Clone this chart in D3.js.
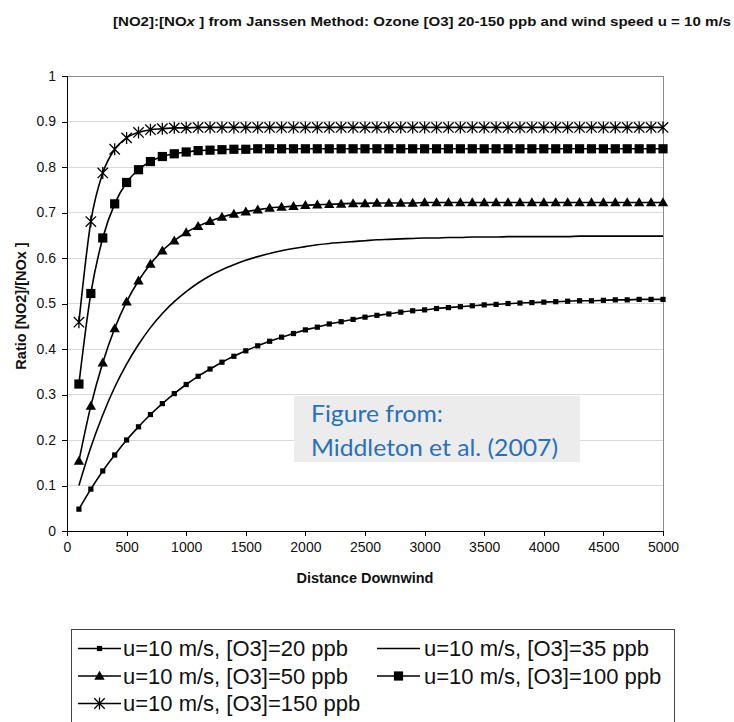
<!DOCTYPE html>
<html>
<head>
<meta charset="utf-8">
<script src="https://cdn.jsdelivr.net/npm/d3@7"></script>
<style>
  html, body { margin: 0; padding: 0; background: #fff; }
  svg { display: block; }
</style>
</head>
<body>
<svg id="chart" width="734" height="722"></svg>
<script>
// ---------- data ----------
const distances = [100,200,300,400,500,600,700,800,900,1000,
  1100,1200,1300,1400,1500,1600,1700,1800,1900,2000,
  2100,2200,2300,2400,2500,2600,2700,2800,2900,3000,
  3100,3200,3300,3400,3500,3600,3700,3800,3900,4000,
  4100,4200,4300,4400,4500,4600,4700,4800,4900,5000];

const o3_20 = [0.048,0.092,0.132,0.167,0.200,0.229,0.256,0.280,0.302,0.322,
  0.340,0.356,0.371,0.384,0.396,0.407,0.417,0.426,0.434,0.442,
  0.448,0.455,0.460,0.465,0.470,0.474,0.477,0.481,0.484,0.486,
  0.489,0.491,0.493,0.495,0.497,0.498,0.500,0.501,0.502,0.503,
  0.504,0.505,0.506,0.506,0.507,0.508,0.508,0.509,0.509,0.509];

const o3_35 = [0.100,0.184,0.255,0.316,0.367,0.410,0.447,0.478,0.504,0.526,
  0.545,0.561,0.574,0.585,0.595,0.603,0.610,0.616,0.621,0.625,
  0.629,0.632,0.634,0.636,0.638,0.640,0.641,0.642,0.643,0.644,
  0.644,0.645,0.645,0.646,0.646,0.646,0.647,0.647,0.647,0.647,
  0.647,0.647,0.648,0.648,0.648,0.648,0.648,0.648,0.648,0.648];

const o3_50 = [0.154,0.275,0.370,0.445,0.504,0.550,0.587,0.616,0.638,0.656,
  0.670,0.681,0.690,0.697,0.702,0.706,0.710,0.712,0.714,0.716,
  0.717,0.718,0.719,0.720,0.720,0.721,0.721,0.721,0.721,0.722,
  0.722,0.722,0.722,0.722,0.722,0.722,0.722,0.722,0.722,0.722,
  0.722,0.722,0.722,0.722,0.722,0.722,0.722,0.722,0.722,0.722];

const o3_100 = [0.323,0.522,0.644,0.719,0.766,0.794,0.812,0.823,0.829,0.833,
  0.836,0.837,0.838,0.839,0.839,0.840,0.840,0.840,0.840,0.840,
  0.840,0.840,0.840,0.840,0.840,0.840,0.840,0.840,0.840,0.840,
  0.840,0.840,0.840,0.840,0.840,0.840,0.840,0.840,0.840,0.840,
  0.840,0.840,0.840,0.840,0.840,0.840,0.840,0.840,0.840,0.840];

const o3_150 = [0.459,0.680,0.787,0.839,0.864,0.876,0.882,0.884,0.886,0.886,
  0.887,0.887,0.887,0.887,0.887,0.887,0.887,0.887,0.887,0.887,
  0.887,0.887,0.887,0.887,0.887,0.887,0.887,0.887,0.887,0.887,
  0.887,0.887,0.887,0.887,0.887,0.887,0.887,0.887,0.887,0.887,
  0.887,0.887,0.887,0.887,0.887,0.887,0.887,0.887,0.887,0.887];

const seriesNames = ["u=10 m/s, [O3]=20 ppb","u=10 m/s, [O3]=35 ppb","u=10 m/s, [O3]=50 ppb",
                     "u=10 m/s, [O3]=100 ppb","u=10 m/s, [O3]=150 ppb"];
const seriesMarkers = ["smallSquare","none","triangle","square","asterisk"];
const xTicks = [0,500,1000,1500,2000,2500,3000,3500,4000,4500,5000];
const yTicks = [0,0.1,0.2,0.3,0.4,0.5,0.6,0.7,0.8,0.9,1];
const titlePre = "[NO2]:[NO";
const titleItalic = "x";
const titlePost = " ] from Janssen Method: Ozone [O3] 20-150 ppb and wind speed u = 10 m/s";
const xLabel = "Distance Downwind";
const yLabel = "Ratio [NO2]/[NOx ]";
const noteLines = ["Figure from:", "Middleton et al. (2007)"];

const seriesValues = [o3_20, o3_35, o3_50, o3_100, o3_150];
const series = seriesNames.map((name, i) => ({
  name, marker: seriesMarkers[i],
  points: distances.map((d, j) => ({x: d, y: seriesValues[i][j]}))
}));

// ---------- layout ----------
const svg = d3.select("#chart");
const plot = {left: 67, right: 663, top: 76, bottom: 531};
const x = d3.scaleLinear().domain([0, 5000]).range([plot.left, plot.right]);
const y = d3.scaleLinear().domain([0, 1]).range([plot.bottom, plot.top]);
const font = "'Liberation Sans', Arial, sans-serif";

// title
const title = svg.append("text")
  .attr("x", 113).attr("y", 26)
  .attr("font-family", font).attr("font-weight", "bold").attr("font-size", 13.5)
  .attr("textLength", 618).attr("lengthAdjust", "spacingAndGlyphs")
  .attr("fill", "#111");
title.append("tspan").text(titlePre);
title.append("tspan").attr("font-style", "italic").text(titleItalic);
title.append("tspan").text(titlePost);

// gridlines
svg.append("g").selectAll("line")
  .data(yTicks.filter(t => t > 0 && t < 1))
  .join("line")
  .attr("x1", plot.left).attr("x2", plot.right)
  .attr("y1", d => y(d)).attr("y2", d => y(d))
  .attr("stroke", "#d9d9d9").attr("stroke-width", 1).attr("shape-rendering", "crispEdges");

// frame top/right
svg.append("line").attr("x1", plot.left).attr("x2", plot.right).attr("y1", plot.top).attr("y2", plot.top)
  .attr("stroke", "#8c8c8c").attr("shape-rendering", "crispEdges");
svg.append("line").attr("x1", plot.right).attr("x2", plot.right).attr("y1", plot.top).attr("y2", plot.bottom)
  .attr("stroke", "#8c8c8c").attr("shape-rendering", "crispEdges");

// axes
const xAxis = d3.axisBottom(x).tickValues(xTicks).tickSize(5).tickPadding(6).tickFormat(d3.format("d"));
const yAxis = d3.axisLeft(y).tickValues(yTicks).tickSize(5).tickPadding(6).tickFormat(d => d === 0 || d === 1 ? String(d) : d3.format(".1f")(d));

const gx = svg.append("g").attr("transform", `translate(0,${plot.bottom})`).call(xAxis);
const gy = svg.append("g").attr("transform", `translate(${plot.left},0)`).call(yAxis);
[gx, gy].forEach(g => {
  g.select(".domain").attr("stroke", "#000").attr("shape-rendering", "crispEdges");
  g.selectAll(".tick line").attr("stroke", "#000").attr("shape-rendering", "crispEdges");
  g.selectAll("text").attr("font-family", font).attr("font-size", 14).attr("fill", "#111");
});
gx.select(".domain").attr("d", `M${plot.left},0H${plot.right}`);
gy.select(".domain").attr("d", `M0,${plot.top}V${plot.bottom}`);

// axis labels
svg.append("text").attr("x", (plot.left + plot.right) / 2).attr("y", 583)
  .attr("text-anchor", "middle").attr("font-family", font).attr("font-weight", "bold")
  .attr("font-size", 14.5).attr("fill", "#111").text(xLabel);
svg.append("text").attr("transform", "translate(26,306) rotate(-90)")
  .attr("text-anchor", "middle").attr("font-family", font).attr("font-weight", "bold")
  .attr("font-size", 14.5).attr("fill", "#111").text(yLabel);

// ---------- markers ----------
function drawMarker(g, type, cx, cy, scale) {
  const s = scale || 1;
  if (type === "smallSquare") {
    g.append("rect").attr("x", cx - 2.6 * s).attr("y", cy - 2.6 * s)
      .attr("width", 5.2 * s).attr("height", 5.2 * s).attr("fill", "#000");
  } else if (type === "square") {
    g.append("rect").attr("x", cx - 4.6 * s).attr("y", cy - 4.6 * s)
      .attr("width", 9.2 * s).attr("height", 9.2 * s).attr("fill", "#000");
  } else if (type === "triangle") {
    g.append("path").attr("d", `M${cx},${cy - 5.2 * s}L${cx + 5.2 * s},${cy + 3.8 * s}L${cx - 5.2 * s},${cy + 3.8 * s}Z`)
      .attr("fill", "#000");
  } else if (type === "asterisk") {
    const a = 5.2 * s, v = 6 * s;
    g.append("path")
      .attr("d", `M${cx - a},${cy - a}L${cx + a},${cy + a}M${cx - a},${cy + a}L${cx + a},${cy - a}M${cx},${cy - v}L${cx},${cy + v}`)
      .attr("stroke", "#000").attr("stroke-width", 1.3).attr("fill", "none");
  }
}

const line = d3.line().x(d => x(d.x)).y(d => y(d.y)).curve(d3.curveMonotoneX);
const gSeries = svg.append("g");
series.forEach(s => {
  gSeries.append("path").attr("d", line(s.points))
    .attr("fill", "none").attr("stroke", "#000").attr("stroke-width", 1.6);
  const gm = gSeries.append("g");
  if (s.marker !== "none") s.points.forEach(p => drawMarker(gm, s.marker, x(p.x), y(p.y)));
});

// ---------- annotation ----------
svg.append("rect").attr("x", 294).attr("y", 396).attr("width", 286).attr("height", 66).attr("fill", "#ececec");
const noteLens = [132, 247];
noteLines.forEach((t, i) => {
  svg.append("text").attr("x", 311).attr("y", 422 + i * 34)
    .attr("font-family", "Lato, 'Open Sans', sans-serif").attr("font-size", 23.5)
    .attr("textLength", noteLens[i]).attr("lengthAdjust", "spacingAndGlyphs")
    .attr("fill", "#2870bb").text(t);
});

// ---------- legend ----------
svg.append("rect").attr("x", 71.5).attr("y", 629.5).attr("width", 603).attr("height", 110)
  .attr("fill", "#fff").attr("stroke", "#444").attr("stroke-width", 1);
const legPos = [
  {lx: 78, tx: 123, by: 656}, {lx: 377, tx: 424, by: 656},
  {lx: 78, tx: 123, by: 683.5}, {lx: 377, tx: 424, by: 683.5},
  {lx: 78, tx: 123, by: 711}
];
const gLeg = svg.append("g");
series.forEach((s, i) => {
  const p = legPos[i];
  const ly = p.by - 7.5;
  gLeg.append("line").attr("x1", p.lx).attr("x2", p.lx + 43).attr("y1", ly).attr("y2", ly)
    .attr("stroke", "#000").attr("stroke-width", 1.6);
  if (s.marker !== "none") drawMarker(gLeg, s.marker, p.lx + 21.5, ly, 1);
  gLeg.append("text").attr("x", p.tx).attr("y", p.by)
    .attr("font-family", font).attr("font-size", 22).attr("fill", "#111").text(s.name);
});
</script>
</body>
</html>
